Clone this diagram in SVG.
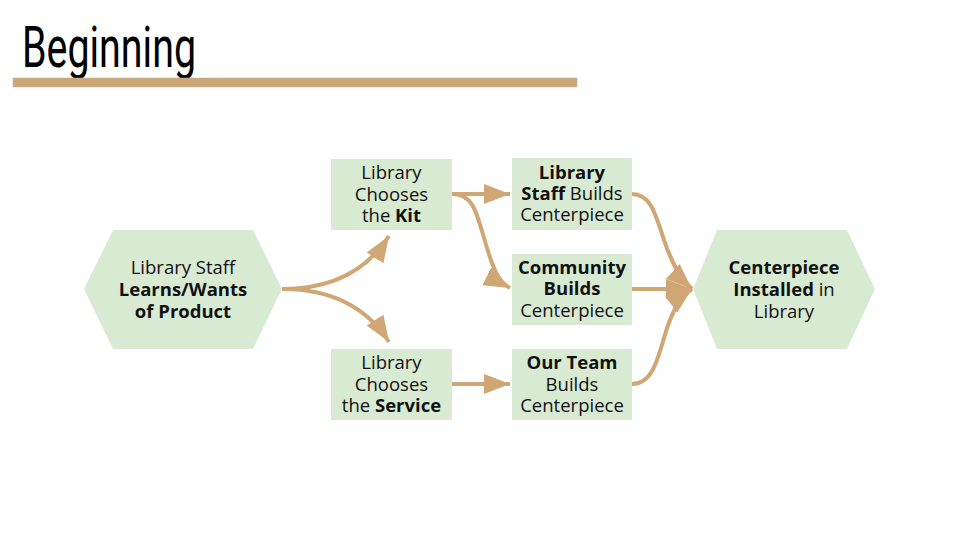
<svg xmlns="http://www.w3.org/2000/svg" width="960" height="540" viewBox="0 0 960 540">
<style>
.node{fill:#d9ead3;}
.t{font-family:"Open Sans","DejaVu Sans",sans-serif;font-size:18.5px;fill:#111111;text-anchor:middle;}
.b{font-weight:bold;}
.c{fill:none;stroke:#cfa674;stroke-width:4;}
</style>
<defs>
<marker id="ah" markerUnits="userSpaceOnUse" markerWidth="28" markerHeight="22" refX="26" refY="11" orient="auto">
<path d="M0,1 L26,11 L0,21 Z" fill="#cfa674"/>
</marker>
</defs>
<rect width="960" height="540" fill="#ffffff"/>
<g id="title">
<text x="22" y="67" font-family="Roboto,sans-serif" font-size="58" fill="#000" textLength="174" lengthAdjust="spacingAndGlyphs">Beginning</text>
<rect x="13" y="78" width="564" height="9" fill="#cba677" stroke="#b8b0a4" stroke-width="0.5"/>
</g>
<g id="connectors">
<path class="c" d="M282,289 C330,289 366,272 389,236" marker-end="url(#ah)"/>
<path class="c" d="M282,289 C330,289 366,306 389,342" marker-end="url(#ah)"/>
<path class="c" d="M452,194 L510,194" marker-end="url(#ah)"/>
<path class="c" d="M452,194 C472,194 476,210 484,238 C492,266 498,282 510,288" marker-end="url(#ah)"/>
<path class="c" d="M452,384 L510,384" marker-end="url(#ah)"/>
<path class="c" d="M632,194 C650,194 655,212 664,240 C672,264 680,278 692,289" marker-end="url(#ah)"/>
<path class="c" d="M632,289 L692,289" marker-end="url(#ah)"/>
<path class="c" d="M632,384 C650,384 656,366 664,338 C672,310 680,298 692,289" marker-end="url(#ah)"/>
</g>
<g id="n-learns">
<polygon class="node" points="84,289 113,230 253,230 282,289 253,349 113,349"/>
<text class="t" x="183" y="274">Library Staff</text>
<text class="t b" x="183" y="296">Learns/Wants</text>
<text class="t b" x="183" y="318">of Product</text>
</g>
<g id="n-kit">
<rect class="node" x="331" y="159" width="121" height="71"/>
<text class="t" x="391.5" y="179">Library</text>
<text class="t" x="391.5" y="201">Chooses</text>
<text class="t" x="391.5" y="222">the <tspan class="b">Kit</tspan></text>
</g>
<g id="n-service">
<rect class="node" x="331" y="349" width="121" height="71"/>
<text class="t" x="391.5" y="369">Library</text>
<text class="t" x="391.5" y="391">Chooses</text>
<text class="t" x="391.5" y="412">the <tspan class="b">Service</tspan></text>
</g>
<g id="n-staff">
<rect class="node" x="512" y="158" width="120" height="72"/>
<text class="t b" x="572" y="179">Library</text>
<text class="t" x="572" y="200"><tspan class="b">Staff</tspan> Builds</text>
<text class="t" x="572" y="221">Centerpiece</text>
</g>
<g id="n-community">
<rect class="node" x="512" y="254" width="120" height="71"/>
<text class="t b" x="572" y="274">Community</text>
<text class="t b" x="572" y="295">Builds</text>
<text class="t" x="572" y="317">Centerpiece</text>
</g>
<g id="n-team">
<rect class="node" x="512" y="349" width="120" height="71"/>
<text class="t b" x="572" y="369">Our Team</text>
<text class="t" x="572" y="391">Builds</text>
<text class="t" x="572" y="412">Centerpiece</text>
</g>
<g id="n-installed">
<polygon class="node" points="693,289 717,230 847,230 875,289 847,349 717,349"/>
<text class="t b" x="784" y="274">Centerpiece</text>
<text class="t" x="784" y="296"><tspan class="b">Installed</tspan> in</text>
<text class="t" x="784" y="318">Library</text>
</g>
</svg>
